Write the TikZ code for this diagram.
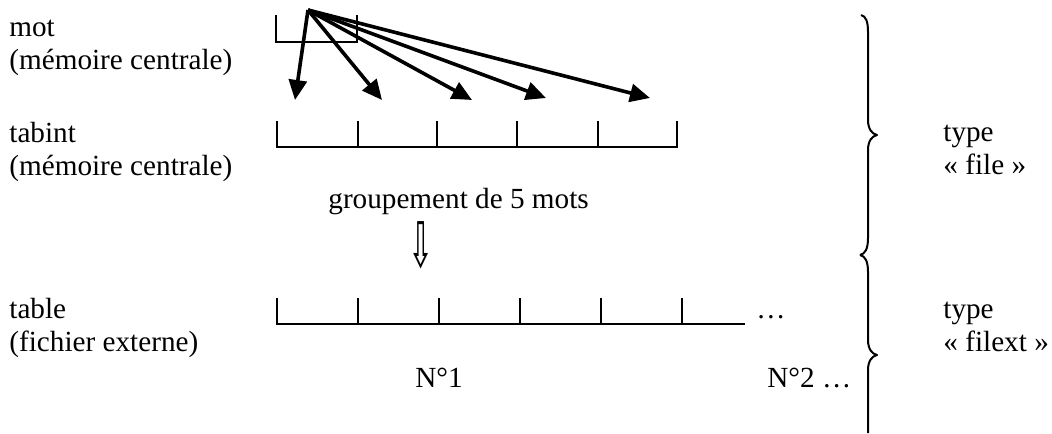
\documentclass[tikz,border=0pt]{standalone}
\usepackage{fontspec}
\setmainfont{Liberation Serif}
\newfontfamily\symfont{DejaVu Sans}
\usetikzlibrary{arrows.meta}
\tikzset{
  lbl/.style={anchor=base west, inner sep=0pt, font=\fontsize{14.6pt}{17pt}\selectfont},
  cell/.style={line width=0.8pt},
  fan/.style={line width=1.8pt, -{Triangle[length=10pt,width=9pt]}},
  brace/.style={line width=1pt, line join=round}
}
\begin{document}
\begin{tikzpicture}[x=0.5pt, y=-0.5pt]
\useasboundingbox (0,0) rectangle (1052,433);
% left labels
\node[lbl] (mot) at (9,37) {mot};
\node[lbl] (motmc) at (9,69) {(mémoire centrale)};
\node[lbl] (tabint) at (9,142) {tabint};
\node[lbl] (tabintmc) at (9,175) {(mémoire centrale)};
\node[lbl] (table) at (9,318) {table};
\node[lbl] (tablefe) at (9,351) {(fichier externe)};
% right labels
\node[lbl] (type1) at (943,141) {type};
\node[lbl] (file) at (943,174) {« file »};
\node[lbl] (type2) at (943,318) {type};
\node[lbl] (filext) at (943,351) {« filext »};
% middle labels
\node[lbl] (grp) at (328,208) {groupement de 5 mots};
\node[anchor=center, inner sep=0pt, font=\symfont\fontsize{15pt}{17pt}\selectfont, yscale=2.1] (dn) at (421,245) {⇩};
\node[lbl] (n1) at (415,387) {N°1};
\node[lbl] (n2) at (767,387) {N°2 …};
\node[lbl] (dots) at (756,318) {…};
% mot cell
\draw[cell] (276,15) -- (276,42) -- (357,42) -- (357,15);
% tabint cells
\foreach \x in {277,358,437,517,598,677} \draw[cell] (\x,121) -- (\x,148);
\draw[cell] (277,147) -- (677,147);
% table cells
\foreach \x in {277,358,439,520,601,682} \draw[cell] (\x,298) -- (\x,325);
\draw[cell] (277,324) -- (745,324);
% fan arrows
\coordinate (o) at (308,10);
\coordinate (t1) at (295,100);
\coordinate (t2) at (382,100);
\coordinate (t3) at (472,100);
\coordinate (t4) at (546,98);
\coordinate (t5) at (650,98);
\foreach \t in {t1,t2,t3,t4,t5} \draw[fan] (o) -- (\t);
% braces
\draw[brace] (861,15) .. controls (866,16) and (868,22) .. (868,32) -- (868,120)
  .. controls (868,129) and (872,134) .. (877,135)
  .. controls (872,136) and (868,141) .. (868,150) -- (868,238)
  .. controls (868,249) and (865,254) .. (860,255);
\draw[brace] (860,255) .. controls (865,256) and (868,261) .. (868,272) -- (868,340)
  .. controls (868,349) and (872,354) .. (877,355)
  .. controls (872,356) and (868,361) .. (868,370) -- (868,433);
\end{tikzpicture}
\end{document}
